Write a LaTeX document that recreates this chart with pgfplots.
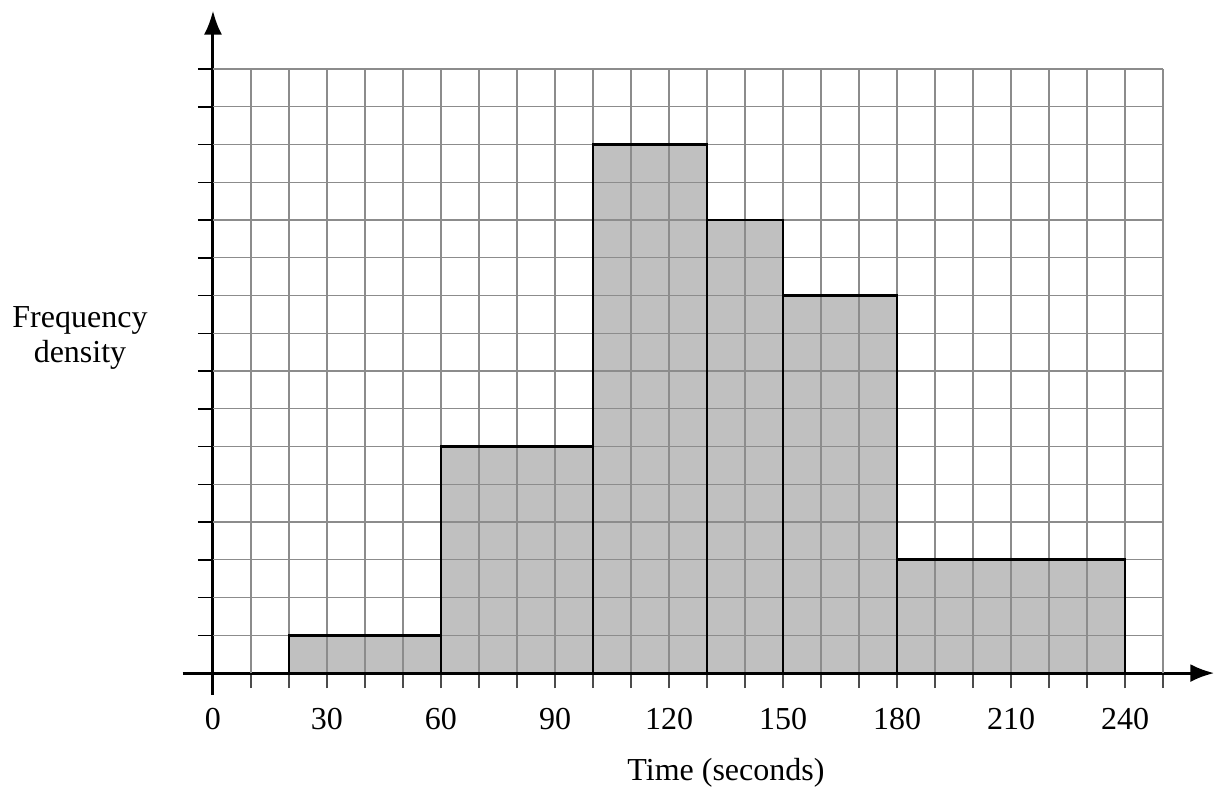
\documentclass[border=0pt]{standalone}
\usepackage{pgfplots}
\pgfplotsset{compat=1.18}
\usepackage{fontspec}
\setmainfont{Liberation Serif}
\usetikzlibrary{arrows.meta}

\begin{document}
\begin{tikzpicture}
\begin{axis}[
    scale only axis,
    x=1.9pt, y=18.875pt,
    xmin=-8, xmax=263.5,
    ymin=-0.58, ymax=17.55,
    axis lines=middle,
    axis line style={line width=1.5pt},
    every inner x axis line/.append style={-{Latex[length=12pt,width=9pt]}},
    every inner y axis line/.append style={-{Latex[length=12pt,width=9pt]}},
    hide obscured x ticks=false,
    xtick={0,30,...,240},
    minor xtick={10,20,...,250},
    ytick={1,...,16},
    yticklabels={},
    tick align=outside,
    major tick length=7.5pt,
    minor tick length=7.5pt,
    xtick style={black!70, line width=0.6pt},
    minor tick style={black!70, line width=0.6pt},
    ytick style={black, line width=0.7pt},
    ticklabel style={font=\fontsize{16}{19}\selectfont},
    xticklabel style={yshift=-6.5pt},
    /pgf/number format/assume math mode=true,
    clip=false,
]
% bar fills
\addplot[ybar interval, fill={rgb,255:red,192;green,192;blue,192}, draw=none]
    coordinates {(20,1) (60,6) (100,14) (130,12) (150,10) (180,3) (240,3)};
% grid
\pgfplotsinvokeforeach{10,20,...,250}{
    \draw[line width=0.65pt, black!45] (axis cs:#1,0) -- (axis cs:#1,16);
}
\pgfplotsinvokeforeach{1,...,16}{
    \draw[line width=0.65pt, black!45] (axis cs:0,#1) -- (axis cs:250,#1);
}
% bar outlines
\addplot[ybar interval, fill=none, draw=black, line width=1.35pt]
    coordinates {(20,1) (60,6) (100,14) (130,12) (150,10) (180,3) (240,3)};
\node[font=\fontsize{16}{19}\selectfont] at (axis cs:135,-2.65) {Time (seconds)};
\node[font=\fontsize{16}{17.5}\selectfont, align=center] at (axis cs:-35,8.87) {Frequency\\density};
\coordinate (bl) at (axis cs:-56.05,-3.02);
\coordinate (tr) at (axis cs:263.68,17.83);
\end{axis}
\pgfresetboundingbox
\path[use as bounding box] (bl) rectangle (tr);
\end{tikzpicture}
\end{document}
